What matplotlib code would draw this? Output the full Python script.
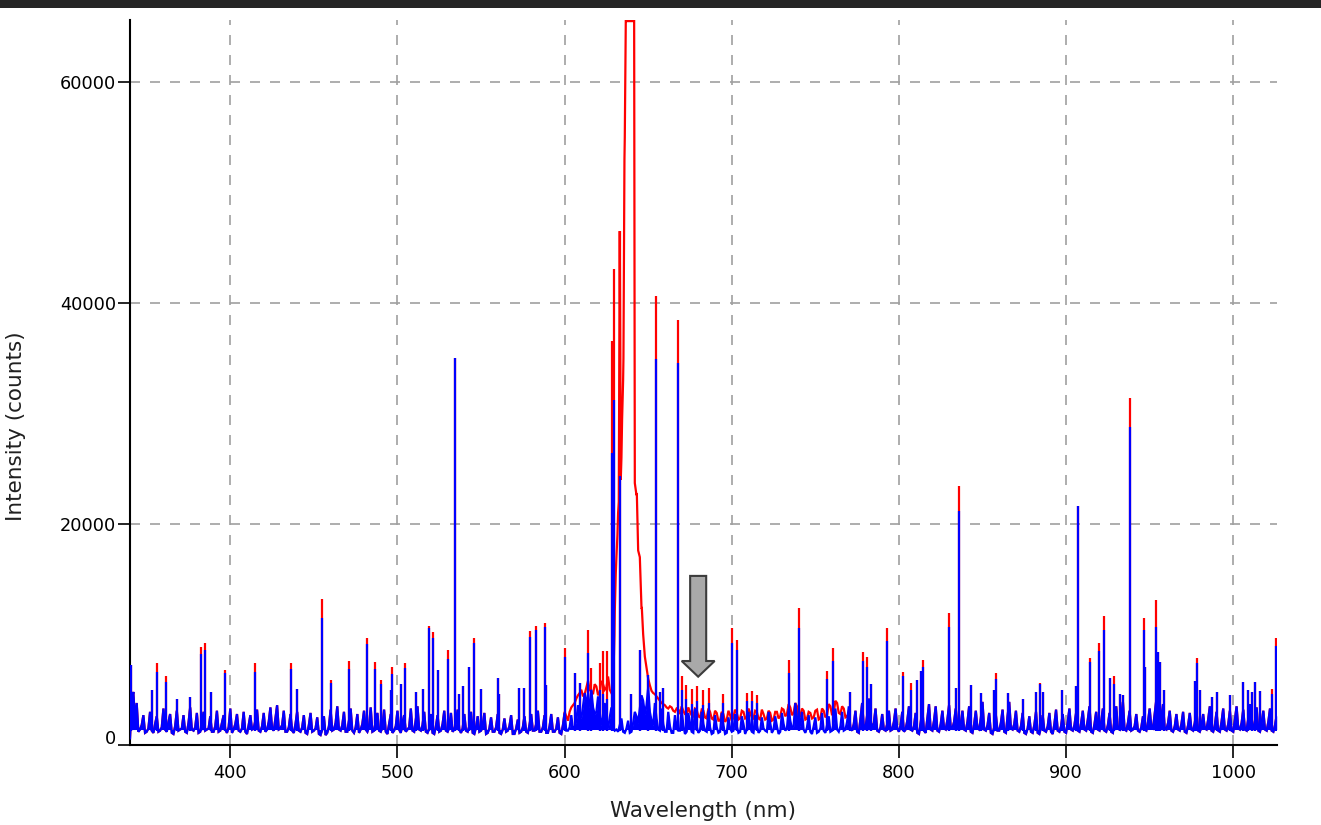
import numpy as np
import matplotlib.pyplot as plt
from matplotlib.patches import FancyArrow, Rectangle
from matplotlib.transforms import ScaledTranslation

# wavelength grids of the baseline samples (nm): even and odd nanometres
wl_even = np.arange(340, 1027, 2)
wl_odd = np.arange(341, 1026, 2)

# blue baseline at even nm, in hundreds of counts
blue_even = np.array([
    6, 48, 38, 14, 27, 12, 30, 11, 26, 13, 33, 12, 28, 10, 31, 14, 27, 11, 34, 13, 29, 12, 30, 14, 26,
    12, 31, 13, 27, 11, 33, 14, 28, 12, 30, 10, 27, 15, 32, 12, 29, 14, 34, 13, 36, 15, 31, 12, 28, 11,
    30, 12, 27, 10, 29, 13, 25, 9, 26, 11, 32, 14, 35, 13, 30, 12, 33, 11, 28, 14, 31, 12, 34, 13, 29,
    12, 32, 10, 28, 13, 31, 11, 27, 14, 33, 12, 35, 13, 30, 11, 28, 10, 27, 13, 31, 12, 29, 14, 32, 11,
    28, 12, 30, 10, 26, 13, 29, 11, 25, 12, 28, 10, 24, 13, 27, 10, 23, 12, 26, 11, 28, 13, 31, 12, 27,
    11, 28, 12, 25, 10, 29, 13, 27, 16, 36, 24, 47, 32, 50, 28, 44, 18, 38, 15, 34, 13, 12, 24, 11, 22,
    12, 30, 20, 45, 28, 52, 22, 38, 14, 33, 12, 30, 11, 27, 13, 32, 10, 29, 12, 33, 11, 30, 13, 31, 10,
    27, 11, 29, 10, 25, 12, 28, 11, 26, 10, 30, 12, 27, 11, 25, 13, 30, 11, 26, 10, 29, 13, 33, 15, 38,
    16, 30, 11, 27, 10, 25, 12, 29, 11, 26, 13, 33, 12, 30, 14, 35, 13, 31, 11, 38, 15, 42, 17, 33, 12,
    28, 13, 31, 14, 33, 12, 30, 14, 35, 13, 29, 10, 32, 11, 37, 13, 35, 12, 31, 14, 36, 15, 33, 16, 31,
    13, 35, 11, 31, 14, 39, 13, 29, 10, 27, 13, 32, 11, 39, 14, 31, 12, 29, 10, 26, 11, 30, 10, 27, 12,
    29, 10, 32, 12, 28, 11, 33, 13, 29, 12, 31, 13, 35, 11, 30, 13, 33, 12, 29, 11, 35, 14, 39, 13, 31,
    14, 28, 12, 26, 13, 33, 15, 41, 18, 37, 14, 31, 12, 28, 13, 30, 11, 29, 13, 31, 12, 28, 14, 35, 12,
    30, 12, 33, 13, 31, 12, 35, 14, 32, 13, 37, 15, 34, 12, 31, 13, 33, 12, 27,
]) * 100

# blue baseline at odd nm, in hundreds of counts
blue_odd = np.array([
    40, 22, 12, 18, 11, 15, 13, 19, 12, 16, 14, 21, 11, 17, 13, 15, 12, 20, 14, 16, 11, 18, 13, 15, 12,
    17, 12, 20, 14, 16, 11, 19, 13, 15, 12, 18, 14, 22, 13, 17, 12, 21, 15, 24, 14, 18, 12, 16, 13, 19,
    13, 16, 11, 18, 12, 15, 10, 14, 9, 17, 13, 20, 14, 18, 12, 22, 13, 16, 11, 19, 14, 17, 12, 21, 13,
    16, 12, 19, 11, 17, 14, 20, 12, 16, 13, 23, 14, 18, 12, 15, 11, 17, 12, 19, 13, 16, 12, 20, 14, 15,
    13, 17, 11, 16, 12, 18, 10, 15, 12, 16, 11, 14, 12, 17, 10, 15, 11, 16, 12, 18, 13, 19, 12, 16, 11,
    17, 12, 15, 11, 18, 13, 16, 14, 22, 30, 35, 41, 38, 34, 30, 26, 28, 22, 25, 17, 14, 18, 12, 15, 11,
    20, 26, 33, 40, 36, 30, 18, 24, 13, 19, 12, 17, 11, 16, 13, 18, 12, 20, 11, 17, 13, 19, 12, 16, 11,
    16, 12, 18, 11, 15, 13, 17, 12, 19, 14, 16, 11, 18, 13, 15, 12, 20, 14, 17, 12, 19, 15, 22, 17, 25,
    18, 14, 16, 12, 17, 11, 15, 13, 18, 12, 20, 14, 17, 13, 21, 15, 19, 12, 24, 16, 27, 18, 20, 13, 16,
    14, 19, 13, 21, 15, 18, 12, 22, 14, 17, 11, 20, 13, 24, 14, 22, 13, 19, 15, 23, 16, 21, 17, 19, 14,
    21, 12, 19, 15, 24, 14, 18, 11, 16, 13, 20, 12, 26, 15, 19, 13, 17, 11, 15, 12, 18, 11, 16, 13, 17,
    12, 19, 13, 17, 12, 21, 14, 18, 13, 20, 14, 23, 12, 19, 14, 21, 13, 18, 12, 23, 15, 26, 14, 20, 13,
    17, 13, 16, 14, 21, 16, 28, 19, 25, 15, 20, 13, 17, 14, 19, 12, 18, 14, 20, 13, 17, 15, 23, 13, 18,
    13, 21, 14, 19, 13, 23, 15, 20, 14, 24, 16, 22, 13, 20, 14, 21, 13, 18,
]) * 100

# red baseline between 600 and 770 nm (hundreds of counts); elsewhere it equals blue
red_even_600 = np.array([
    30, 22, 34, 38, 45, 50, 46, 58, 48, 55,
    45, 58, 50, 62, 47, 120, 210, 260, 550, 655,
    655, 237, 176, 124, 80, 60, 49, 46, 42, 38,
    36, 33, 34, 30, 32, 35, 28, 34, 27, 33,
    26, 32, 25, 33, 24, 31, 22, 30, 21, 31,
    22, 32, 23, 31, 24, 33, 25, 31, 24, 32,
    23, 31, 22, 30, 24, 33, 26, 37, 27, 38,
    25, 33, 23, 30, 24, 31, 23, 33, 25, 37,
    27, 40, 29, 35, 25, 29,
]) * 100
red_odd_601 = np.array([
    26, 30, 36, 42, 47, 44, 52, 50, 46, 53,
    48, 55, 52, 50, 50, 170, 465, 330, 655, 655,
    655, 226, 170, 100, 70, 54, 47, 44, 40, 37,
    34, 35, 31, 33, 28, 31, 27, 30, 26, 32,
    25, 31, 24, 30, 23, 29, 22, 28, 23, 27,
    25, 29, 24, 30, 25, 29, 24, 30, 23, 28,
    24, 29, 23, 30, 26, 32, 28, 34, 29, 35,
    26, 31, 24, 29, 25, 32, 24, 31, 27, 35,
    29, 38, 28, 33, 26,
]) * 100

# extra samples on the saturated red line
red_main_wl = [629.8, 630.6, 631.6, 632.4, 633.0, 633.6, 634.4, 635.2, 635.8,
               636.6, 641.6, 642.0, 643.2, 644.0, 645.0, 646.2]
red_main_val = [9900, 15500, 19000, 22000, 46500, 24000, 29500, 35000, 53000,
                65535, 65535, 23700, 22800, 17600, 17000, 12400]

# emission lines: wavelength, blue height, red height (counts)
peak_wl = [340.6, 353, 356.2, 361.4, 368, 375.6, 382.6, 385, 388.6, 397,
           415, 436.4, 440, 455, 460, 471, 481.6, 486.4, 490, 496,
           497, 502, 504.4, 511, 515, 518.6, 521, 524, 530, 534.3,
           537, 539.5, 543, 546, 550, 560, 561, 573, 576, 579,
           583, 588, 589, 600.5, 606, 609, 614, 616, 621, 623,
           625.5, 628.4, 629.4, 633, 640, 645, 650, 654.4, 657, 659,
           667.6, 670, 672.5, 676, 679, 683, 686.5, 695, 700, 703,
           709, 712, 715, 734, 740, 757, 760.6, 771, 778.6, 781,
           783, 792.6, 802.4, 807, 811, 813, 814.4, 830, 834.4, 836,
           843, 849, 857, 858, 865, 874, 882, 884.6, 886, 897.4,
           905.8, 907.4, 914.2, 919.4, 922.6, 926, 928.6, 932, 934, 938,
           946.4, 947.4, 953.6, 955, 956, 958.4, 977, 978.6, 980, 987,
           990, 998, 1006, 1009, 1011, 1013, 1016, 1023, 1025.8]
peak_blue = [7200, 5000, 6600, 5700, 4200, 4300, 8200, 8600, 4800, 6500,
             6600, 6900, 5100, 11500, 5600, 6900, 9100, 6900, 5500, 5000,
             6400, 5500, 7000, 4800, 5100, 10600, 9700, 6800, 7800, 35000,
             4600, 5300, 7100, 9200, 5100, 6100, 4600, 5200, 5200, 9800,
             10400, 10700, 5400, 8000, 6500, 5600, 8300, 5000, 5000, 4600,
             4200, 26400, 31200, 24300, 4600, 8600, 6300, 34900, 4800, 5200,
             34600, 5000, 4200, 3700, 4000, 3600, 3800, 3800, 9200, 8600,
             4000, 4000, 3800, 6500, 10600, 6000, 7600, 4800, 7600, 7100,
             5500, 9400, 6200, 5000, 5900, 6700, 7100, 10700, 5200, 21200,
             5400, 4700, 5000, 6000, 4700, 4200, 4800, 5500, 4800, 5000,
             5300, 21600, 7500, 8500, 10400, 6100, 5500, 4600, 4500, 28800,
             10400, 7100, 10700, 8400, 7500, 5000, 5800, 7400, 5000, 4300,
             4800, 4500, 5700, 5000, 4800, 5700, 4900, 4600, 9000]
peak_red = [7200, 5000, 7400, 6200, 4200, 4300, 8900, 9200, 4800, 6800,
            7400, 7400, 5100, 13200, 5900, 7600, 9700, 7500, 5900, 5000,
            7100, 5500, 7400, 4800, 5100, 10800, 10200, 6800, 8600, 35000,
            4600, 5300, 7100, 9700, 5100, 6100, 4600, 5200, 5200, 10300,
            10800, 11000, 5400, 8800, 6500, 5600, 10400, 7000, 7400, 8500,
            8500, 36600, 43100, 46500, 4600, 8600, 6300, 40600, 4800, 5200,
            38500, 6200, 5400, 5100, 5300, 5000, 5200, 4600, 10600, 9500,
            4700, 4900, 4500, 7700, 12400, 6700, 8800, 4800, 8400, 8000,
            5500, 10600, 6600, 5600, 5900, 6700, 7700, 11900, 5200, 23400,
            5400, 4700, 5000, 6500, 4700, 4200, 4800, 5600, 4800, 5000,
            5300, 21600, 7900, 9200, 11700, 6100, 6200, 4600, 4500, 31400,
            11500, 7100, 13100, 8400, 7500, 5000, 5800, 7900, 5000, 4300,
            4800, 4500, 5700, 5000, 4800, 5700, 4900, 5100, 9700]

x_ticks = [400, 500, 600, 700, 800, 900, 1000]
y_ticks = [0, 20000, 40000, 60000]


def merge(xs, ys):
    x = np.concatenate(xs)
    y = np.concatenate(ys)
    order = np.argsort(x, kind='stable')
    return x[order], y[order]


blue_x, blue_y = merge([wl_even, wl_odd], [blue_even, blue_odd])

# red: blue baseline with the 600-770 nm stretch swapped in, plus the saturated line
red_even = blue_even.astype(float).copy()
red_odd = blue_odd.astype(float).copy()
ie = np.searchsorted(wl_even, 600)
io = np.searchsorted(wl_odd, 601)
red_even[ie:ie + len(red_even_600)] = red_even_600
red_odd[io:io + len(red_odd_601)] = red_odd_601
red_x, red_y = merge([wl_even, wl_odd, red_main_wl], [red_even, red_odd, red_main_val])

fig = plt.figure(figsize=(13.21, 8.25), dpi=100)
ax = fig.add_axes([130 / 1321, 1 - 745 / 825, 1146.7 / 1321, 725 / 825])

# dark strip on top of the window
fig.patches.append(Rectangle((0, 1 - 8 / 825), 1, 8 / 825, transform=fig.transFigure,
                             facecolor='#262626', edgecolor='none'))

lw = 1.6
ax.plot(red_x, red_y, color='#ff0000', lw=lw, zorder=2, solid_joinstyle='miter')
ax.vlines(peak_wl, 1300, peak_red, color='#ff0000', lw=lw, zorder=2)
# the noise is so dense that it reads as a solid band
ax.fill_between(blue_x, 1400, blue_y, color='#0000ff', lw=0, zorder=3)
ax.plot(blue_x, blue_y, color='#0000ff', lw=lw, zorder=3, solid_joinstyle='miter')
ax.vlines(peak_wl, 1300, peak_blue, color='#0000ff', lw=lw, zorder=3)

# grey marker arrow
ax.add_patch(FancyArrow(679.9, 15300, 0, 6180 - 15300, width=9.6, head_width=19.7,
                        head_length=1420, length_includes_head=True,
                        facecolor='#a9a9a9', edgecolor='#3c3c3c', lw=1.5, zorder=5))

ax.set_xlim(340, 1026)
ax.set_ylim(0, 65600)
ax.set_xticks(x_ticks)
ax.set_yticks(y_ticks)
ax.set_yticklabels([str(v) for v in y_ticks])
ax.grid(True, color='#a0a0a0', lw=1.2, linestyle=(0, (6, 6)), zorder=0)
ax.set_axisbelow(True)

for s in ['top', 'right']:
    ax.spines[s].set_visible(False)
for s in ['left', 'bottom']:
    ax.spines[s].set_linewidth(1.5)

ax.tick_params(axis='both', direction='out', length=9, width=1.2, labelsize=12.8)
ax.tick_params(axis='x', pad=4.5)
ax.tick_params(axis='y', pad=0.8)

# the zero label sits a little above its tick
lbl0 = ax.get_yticklabels()[0]
lbl0.set_transform(lbl0.get_transform() + ScaledTranslation(0, 0.08, fig.dpi_scale_trans))

ax.set_xlabel('Wavelength (nm)', fontsize=15.5, color='#202020')
ax.set_ylabel('Intensity (counts)', fontsize=15.5, color='#202020')
ax.xaxis.label.set_va('center')
ax.yaxis.label.set_va('center')
ax.xaxis.set_label_coords(0.5, -0.091)
ax.yaxis.set_label_coords(-0.0994, 0.44)

plt.savefig('out.png', dpi=100)
